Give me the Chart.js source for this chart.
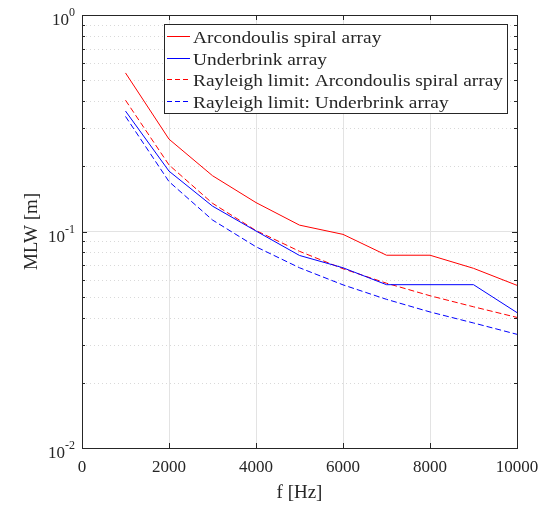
<!DOCTYPE html>
<html>
<head>
<meta charset="utf-8">
<script src="https://cdn.jsdelivr.net/npm/chart.js@4"></script>
<style>
  html, body { margin: 0; padding: 0; background: #fff; }
  #wrap { width: 547px; height: 507px; }
</style>
</head>
<body>
<div id="wrap"><canvas id="chart" width="547" height="507"></canvas></div>
<script>
// data
const freqs = [1000, 2000, 3000, 4000, 5000, 6000, 7000, 8000, 9000, 10000];
const spiralMLW = [0.54, 0.267, 0.181, 0.136, 0.107, 0.097, 0.0777, 0.0777, 0.0676, 0.0564];
const underbrinkMLW = [0.36, 0.19, 0.131, 0.1005, 0.0775, 0.068, 0.0568, 0.0568, 0.0568, 0.0422];
const spiralRayleigh = [0.404, 0.203, 0.135, 0.101, 0.081, 0.0673, 0.0577, 0.0505, 0.0449, 0.0401];
const underbrinkRayleigh = [0.34, 0.17, 0.113, 0.085, 0.068, 0.0567, 0.0486, 0.0425, 0.0378, 0.0335];
const seriesNames = [
    "Arcondoulis spiral array",
    "Underbrink array",
    "Rayleigh limit: Arcondoulis spiral array",
    "Rayleigh limit: Underbrink array"
];
const seriesColors = ["#ff0000", "#0000ff", "#ff0000", "#0000ff"];
const seriesDashed = [false, false, true, true];
const xTicks = [0, 2000, 4000, 6000, 8000, 10000];
const yDecades = [-2, -1, 0];

const FONT = '"Liberation Serif", "DejaVu Serif", serif';

function mkData(vals) {
    return freqs.map((f, i) => ({ x: f, y: vals[i] }));
}

// minor gridlines, tick marks, labels, legend (matlab look)
const matlabAxes = {
    id: "matlabAxes",
    beforeDatasetsDraw(chart) {
        const { ctx, chartArea: a, scales: { y } } = chart;
        ctx.save();
        ctx.strokeStyle = "#d9d9d9";
        ctx.lineWidth = 1;
        ctx.setLineDash([1, 3]);
        for (let d = -2; d < 0; d++) {
            for (let m = 2; m <= 9; m++) {
                const py = Math.round(y.getPixelForValue(m * Math.pow(10, d))) + 0.5;
                ctx.beginPath();
                ctx.moveTo(a.left, py);
                ctx.lineTo(a.right, py);
                ctx.stroke();
            }
        }
        ctx.restore();
    },
    afterDraw(chart) {
        const { ctx, chartArea: a, scales: { x, y } } = chart;
        ctx.save();
        // box
        ctx.strokeStyle = "#262626";
        ctx.lineWidth = 1;
        ctx.strokeRect(Math.round(a.left) + 0.5, Math.round(a.top) + 0.5,
            Math.round(a.right - a.left), Math.round(a.bottom - a.top));
        // inward ticks
        ctx.beginPath();
        xTicks.forEach(v => {
            const px = Math.round(x.getPixelForValue(v)) + 0.5;
            ctx.moveTo(px, a.bottom); ctx.lineTo(px, a.bottom - 5);
            ctx.moveTo(px, a.top); ctx.lineTo(px, a.top + 5);
        });
        for (let d = -2; d <= 0; d++) {
            for (let m = 1; m <= 9; m++) {
                if (d === 0 && m > 1) break;
                const py = Math.round(y.getPixelForValue(m * Math.pow(10, d))) + 0.5;
                const len = m === 1 ? 5 : 3;
                ctx.moveTo(a.left, py); ctx.lineTo(a.left + len, py);
                ctx.moveTo(a.right, py); ctx.lineTo(a.right - len, py);
            }
        }
        ctx.stroke();

        // x tick labels
        ctx.fillStyle = "#262626";
        ctx.font = "17px " + FONT;
        ctx.textAlign = "center";
        ctx.textBaseline = "alphabetic";
        xTicks.forEach(v => {
            ctx.fillText(String(v), x.getPixelForValue(v), a.bottom + 24);
        });
        // y tick labels 10^n
        yDecades.forEach(d => {
            const py = y.getPixelForValue(Math.pow(10, d));
            const exp = String(d);
            ctx.font = "12px " + FONT;
            const ew = ctx.measureText(exp).width;
            ctx.textAlign = "left";
            const right = a.left - 7;
            ctx.fillText(exp, right - ew, py + 1);
            ctx.font = "17px " + FONT;
            ctx.textAlign = "right";
            ctx.fillText("10", right - ew, py + 10);
        });
        // axis titles
        ctx.font = "19px " + FONT;
        ctx.textAlign = "center";
        ctx.fillText("f [Hz]", (a.left + a.right) / 2, a.bottom + 50);
        ctx.save();
        ctx.translate(37, (a.top + a.bottom) / 2);
        ctx.rotate(-Math.PI / 2);
        ctx.fillText("MLW [m]", 0, 0);
        ctx.restore();

        // legend
        const lx = 164.5, ly = 24.5, lw = 343, lh = 89;
        ctx.fillStyle = "#fff";
        ctx.fillRect(lx, ly, lw, lh);
        ctx.strokeStyle = "#262626";
        ctx.strokeRect(lx, ly, lw, lh);
        ctx.font = "17px " + FONT;
        ctx.textAlign = "left";
        const stretch = 310 / ctx.measureText(seriesNames[2]).width;
        seriesNames.forEach((name, i) => {
            const ry = Math.round(36 + i * 21.7) + 0.5;
            ctx.strokeStyle = seriesColors[i];
            ctx.lineWidth = 1;
            ctx.setLineDash(seriesDashed[i] ? [5, 3] : []);
            ctx.beginPath();
            ctx.moveTo(167, ry);
            ctx.lineTo(190, ry);
            ctx.stroke();
            ctx.setLineDash([]);
            ctx.fillStyle = "#262626";
            ctx.save();
            ctx.translate(193, ry + 6);
            ctx.scale(stretch, 1);
            ctx.fillText(name, 0, 0);
            ctx.restore();
        });
        ctx.restore();
    }
};

new Chart(document.getElementById("chart").getContext("2d"), {
    type: "line",
    data: {
        datasets: [spiralMLW, underbrinkMLW, spiralRayleigh, underbrinkRayleigh].map((vals, i) => ({
            label: seriesNames[i],
            data: mkData(vals),
            borderColor: seriesColors[i],
            borderWidth: 1,
            borderDash: seriesDashed[i] ? [6, 3] : []
        }))
    },
    options: {
        responsive: false,
        animation: false,
        layout: { padding: { left: 82, right: 30, top: 15, bottom: 59 } },
        elements: { point: { radius: 0 }, line: { tension: 0 } },
        plugins: { legend: { display: false }, tooltip: { enabled: false } },
        scales: {
            x: {
                type: "linear", min: 0, max: 10000,
                afterBuildTicks: s => { s.ticks = xTicks.map(v => ({ value: v })); },
                ticks: { display: false },
                grid: { color: "#e3e3e3", drawTicks: false },
                border: { display: false }
            },
            y: {
                type: "logarithmic", min: 0.01, max: 1,
                afterBuildTicks: s => { s.ticks = yDecades.map(d => ({ value: Math.pow(10, d) })); },
                ticks: { display: false },
                grid: { color: "#e3e3e3", drawTicks: false },
                border: { display: false }
            }
        }
    },
    plugins: [matlabAxes]
});
</script>
</body>
</html>
